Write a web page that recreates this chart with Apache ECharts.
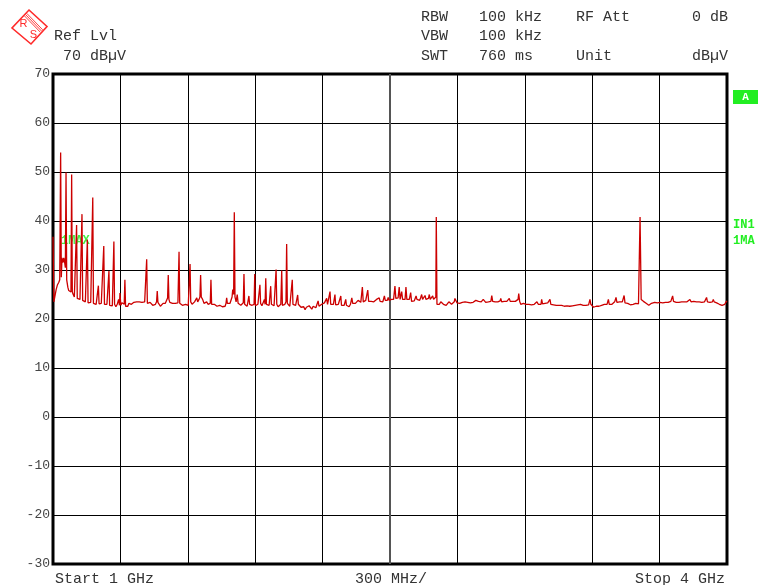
<!DOCTYPE html>
<html>
<head>
<meta charset="utf-8">
<script src="https://cdn.jsdelivr.net/npm/echarts@6/dist/echarts.min.js"></script>
<style>
html,body{margin:0;padding:0;background:#fff;}
#c{width:760px;height:585px;}
</style>
</head>
<body>
<div id="c"></div>
<script>
// ---- sweep settings ----
const startMHz = 1000;
const stopMHz = 4000;
const divMHz = 300;
const yMin = -30;
const yMax = 70;
const yStep = 10;

// ---- header / annotation texts ----
const headerLeft = ['Ref Lvl', '70 dBµV'];
const headerCol1 = ['RBW', 'VBW', 'SWT'];
const headerCol2 = ['100 kHz', '100 kHz', '760 ms'];
const headerCol3 = ['RF Att', '', 'Unit'];
const headerCol4 = ['0 dB', '', 'dBµV'];
const footerTexts = ['Start 1 GHz', '300 MHz/', 'Stop 4 GHz'];
const sideTexts = ['A', 'IN1', '1MA'];
const traceLabel = '1MAX';
const logoLetters = ['R', 'S'];

// ---- trace (frequency in MHz, level in dBµV) ----
const freqMHz = [
1000,1002,1004,1008,1014,1020,1026,1030,1034,1037,
1040,1044,1048,1052,1055,1058,1061,1066,1070,1074,
1080,1083,1086,1090,1095,1101,1105,1108,1114,1120,
1126,1129,1132,1138,1144,1150,1153,1156,1162,1168,
1174,1177,1180,1186,1192,1196,1199,1202,1205,1210,
1215,1220,1223,1226,1229,1234,1240,1246,1249,1252,
1258,1264,1268,1271,1274,1280,1286,1292,1296,1298,
1302,1307,1312,1317,1320,1323,1328,1333,1338,1343,
1349,1354,1360,1366,1372,1378,1384,1390,1396,1402,
1408,1414,1417,1420,1426,1432,1438,1444,1450,1456,
1461,1464,1467,1472,1478,1484,1490,1496,1500,1506,
1510,1513,1516,1520,1526,1532,1538,1544,1550,1556,
1561,1564,1570,1576,1580,1584,1590,1596,1602,1607,
1610,1613,1619,1625,1630,1636,1640,1644,1650,1654,
1657,1660,1666,1672,1678,1684,1690,1696,1700,1703,
1706,1712,1718,1724,1730,1736,1742,1748,1754,1760,
1766,1770,1773,1776,1782,1788,1794,1797,1800,1804,
1807,1810,1815,1820,1824,1830,1836,1842,1847,1850,
1853,1858,1864,1869,1872,1875,1880,1886,1892,1895,
1898,1901,1906,1912,1918,1921,1924,1930,1936,1941,
1944,1947,1950,1956,1962,1966,1969,1972,1978,1984,
1990,1993,1996,2002,2008,2014,2018,2021,2026,2032,
2037,2040,2043,2048,2054,2060,2065,2068,2074,2080,
2086,2089,2092,2098,2104,2110,2116,2122,2128,2134,
2140,2146,2152,2158,2164,2170,2176,2180,2184,2190,
2196,2202,2208,2214,2218,2222,2228,2233,2236,2242,
2248,2255,2258,2264,2270,2276,2281,2284,2290,2296,
2303,2306,2312,2318,2324,2330,2334,2340,2346,2352,
2358,2364,2370,2377,2381,2386,2392,2397,2401,2405,
2410,2416,2422,2428,2434,2440,2446,2452,2456,2462,
2468,2475,2479,2484,2488,2492,2496,2500,2506,2510,
2516,2522,2526,2530,2536,2541,2545,2548,2552,2556,
2562,2567,2571,2575,2580,2586,2592,2596,2602,2608,
2612,2616,2620,2626,2632,2636,2641,2645,2651,2656,
2660,2666,2671,2675,2679,2684,2690,2694,2699,2704,
2706,2709,2714,2720,2726,2732,2738,2744,2750,2756,
2762,2768,2774,2780,2786,2789,2793,2798,2804,2810,
2816,2822,2828,2834,2840,2846,2852,2858,2864,2870,
2876,2882,2888,2894,2900,2906,2912,2915,2920,2926,
2932,2938,2944,2949,2953,2957,2962,2968,2974,2980,
2986,2990,2993,2997,3002,3008,3014,3020,3026,3031,
3035,3040,3046,3052,3058,3064,3070,3073,3077,3082,
3088,3094,3100,3106,3112,3118,3124,3130,3136,3142,
3148,3154,3160,3166,3172,3175,3179,3184,3190,3196,
3202,3208,3212,3216,3222,3228,3234,3240,3246,3252,
3258,3264,3270,3276,3282,3288,3294,3300,3306,3312,
3318,3324,3330,3336,3342,3348,3354,3360,3366,3372,
3378,3384,3390,3394,3400,3406,3412,3418,3424,3430,
3436,3442,3448,3454,3460,3466,3472,3476,3482,3488,
3494,3500,3506,3510,3516,3522,3528,3534,3538,3542,
3546,3552,3558,3564,3570,3576,3582,3588,3594,3600,
3606,3610,3612,3613,3616,3618,3622,3628,3634,3640,
3646,3652,3658,3664,3668,3672,3678,3684,3690,3696,
3702,3708,3714,3720,3726,3732,3738,3744,3750,3755,
3758,3762,3768,3774,3780,3786,3792,3798,3804,3810,
3816,3822,3828,3835,3840,3846,3852,3858,3864,3870,
3876,3882,3888,3894,3900,3905,3909,3913,3918,3924,
3930,3935,3939,3943,3948,3954,3960,3966,3972,3978,
3984,3990,3996,4000
];
const levelDbuV = [
36.8,36.5,23.5,24.5,26.0,27.0,27.5,28.0,54.0,28.5,
32.5,31.5,32.5,31.5,30.5,49.9,28.0,26.5,25.8,26.0,
25.5,49.5,25.5,25.0,24.5,24.3,39.2,24.2,24.2,24.0,
23.8,41.4,23.8,23.6,23.5,23.4,36.2,23.3,23.2,23.4,
23.3,44.8,23.2,23.0,23.0,23.2,22.9,26.8,23.1,23.0,
23.2,23.0,23.3,34.9,23.0,22.8,23.0,22.9,29.8,22.8,
23.0,22.7,22.9,35.8,23.0,22.5,23.0,24.0,22.8,25.3,
22.8,23.3,23.4,23.0,28.0,22.6,22.7,22.6,23.2,22.9,
23.0,23.2,23.4,23.0,23.5,23.3,23.5,23.2,23.4,23.2,
23.5,23.3,32.2,23.2,23.0,23.4,23.0,22.8,23.2,23.0,
23.5,25.7,23.4,23.0,22.6,22.8,23.2,23.0,23.2,23.5,
24.3,29.0,24.0,23.4,23.3,23.2,23.5,23.2,23.4,23.3,
33.7,23.2,23.5,22.8,22.6,22.6,23.0,23.2,22.8,23.0,
31.2,23.5,23.0,23.3,23.5,23.4,24.3,23.5,24.0,24.5,
29.0,24.5,24.0,23.2,23.0,23.5,23.0,22.7,23.2,28.0,
23.0,22.6,23.0,22.8,22.6,23.0,22.8,23.0,22.5,22.7,
22.6,23.2,24.3,23.2,22.8,23.2,23.5,24.5,26.0,25.0,
41.8,24.5,23.5,25.0,23.2,23.0,22.8,22.6,23.3,29.2,
23.0,23.2,22.6,23.0,24.7,23.0,22.6,22.8,23.2,23.0,
29.2,22.7,22.5,23.0,23.3,27.0,23.2,22.7,22.8,24.0,
23.0,28.3,23.0,22.6,22.8,23.0,26.7,23.0,22.6,22.7,
23.0,30.1,23.0,22.5,22.8,23.0,29.9,22.8,22.5,23.0,
23.5,35.3,23.2,22.8,22.6,23.0,28.0,23.0,22.6,22.8,
23.0,24.9,23.0,22.6,22.4,22.0,22.5,21.9,22.4,22.2,
22.7,22.3,22.0,22.6,22.8,22.3,22.6,23.7,22.6,22.4,
23.0,22.8,23.3,23.0,24.2,23.0,22.8,25.6,23.0,22.8,
23.0,25.0,22.9,22.7,23.0,23.3,24.7,22.8,22.5,22.8,
24.0,22.8,22.6,22.5,23.0,24.3,23.2,23.5,23.2,23.5,
23.8,23.5,23.4,26.5,23.5,23.6,23.8,23.5,25.9,23.6,
23.4,23.6,23.8,23.5,23.6,24.0,23.8,24.3,23.6,23.8,
23.5,24.7,23.8,23.4,23.8,24.4,23.8,23.5,24.0,24.2,
24.0,26.7,24.2,24.0,24.3,26.5,24.0,24.2,25.6,24.0,
23.8,24.0,26.5,24.0,23.8,24.0,25.4,23.6,23.8,23.7,
24.2,24.7,24.0,24.1,23.8,24.3,25.0,24.0,24.2,24.8,
24.0,24.1,24.2,25.0,24.0,24.3,24.7,24.0,24.2,24.5,
40.8,23.0,23.2,23.0,23.5,23.2,23.0,23.2,22.8,23.0,
23.5,23.2,23.0,23.3,23.5,24.2,23.8,23.3,23.0,23.2,
23.0,23.4,23.2,23.5,23.6,23.4,23.6,23.3,23.5,23.4,
23.6,23.8,23.5,23.6,23.4,23.5,23.8,24.0,23.6,23.4,
23.6,23.5,23.8,23.6,24.8,23.6,23.4,23.5,23.3,23.5,
23.4,23.7,24.2,23.5,23.4,23.6,23.5,23.6,23.8,24.2,
23.6,23.8,23.6,23.5,23.6,23.8,24.0,25.2,23.6,23.0,
23.3,23.2,23.3,23.0,23.2,23.0,23.2,22.9,23.1,23.0,
23.2,23.5,23.0,23.2,23.0,24.0,23.1,22.9,23.2,23.0,
23.3,23.0,24.0,23.0,22.8,22.9,22.7,22.8,22.7,22.8,
22.6,22.8,22.7,22.6,22.8,22.7,22.8,22.6,22.8,22.7,
22.9,22.8,22.7,22.9,22.8,23.0,22.7,22.8,23.0,22.8,
23.0,22.9,24.0,23.0,22.6,22.4,22.3,22.6,22.8,22.6,
23.0,22.8,23.2,23.0,23.2,23.0,24.0,23.0,23.2,23.0,
23.3,23.5,24.4,23.4,23.2,23.5,23.3,23.5,23.6,24.8,
23.3,23.0,23.2,23.1,22.9,22.9,23.0,23.0,23.2,23.0,
23.1,23.0,23.5,40.8,40.5,24.0,23.8,23.6,23.4,23.2,
23.0,22.8,22.9,23.2,22.9,23.0,23.4,23.5,23.3,23.5,
23.4,23.6,23.3,23.5,23.4,23.6,23.4,23.5,23.6,23.8,
24.7,23.6,23.5,23.4,23.2,23.4,23.3,23.5,23.4,23.5,
23.3,23.5,23.6,24.0,23.5,23.4,23.6,23.3,23.5,23.3,
23.5,23.6,23.4,23.6,23.5,23.8,24.4,23.5,23.6,23.4,
23.6,23.5,24.0,23.5,23.4,23.3,23.2,23.0,22.9,22.8,
22.7,23.0,23.5,23.7
];

const MONO = '"Liberation Mono","DejaVu Sans Mono",monospace';
const TXT = '#333';
const GREEN = '#22ee22';
const LOGO_RED = '#ff2a2a';

const traceData = freqMHz.map((f, i) => [f - startMHz, levelDbuV[i]]);

function txt(text, x, y, opt) {
  opt = opt || {};
  return {
    type: 'text', z: opt.z || 10, silent: true,
    style: {
      text: text, x: x, y: y,
      fontFamily: opt.family || MONO,
      fontSize: opt.size || 14,
      fontWeight: opt.weight || 'normal',
      fill: opt.fill || TXT,
      align: opt.align || 'left',
      verticalAlign: 'middle'
    }
  };
}

const graphics = [];
// R&S logo
graphics.push({
  type: 'polygon', silent: true, z: 10,
  shape: { points: [[29, 10], [47, 26.5], [31, 44], [12, 28]] },
  style: { fill: '#fff', stroke: LOGO_RED, lineWidth: 1.6 }
});
[-1.2, 0, 1.2].forEach(o => {
  graphics.push({
    type: 'line', silent: true, z: 11,
    shape: { x1: 25.5 + o, y1: 14.5 - o, x2: 41.5 + o, y2: 31 - o },
    style: { stroke: LOGO_RED, lineWidth: 0.9 }
  });
});
graphics.push(txt(logoLetters[0], 23.5, 24, { size: 11, fill: LOGO_RED, family: '"Liberation Sans",sans-serif', align: 'center', z: 12 }));
graphics.push(txt(logoLetters[1], 33.5, 35, { size: 11, fill: LOGO_RED, family: '"Liberation Sans",sans-serif', align: 'center', z: 12 }));

// header
graphics.push(txt(headerLeft[0], 54, 36, { size: 15 }));
graphics.push(txt(headerLeft[1], 63, 56, { size: 15 }));
const rowY = [17, 36, 56];
for (let i = 0; i < 3; i++) {
  graphics.push(txt(headerCol1[i], 421, rowY[i], { size: 15 }));
  graphics.push(txt(headerCol2[i], 479, rowY[i], { size: 15 }));
  if (headerCol3[i]) graphics.push(txt(headerCol3[i], 576, rowY[i], { size: 15 }));
  if (headerCol4[i]) graphics.push(txt(headerCol4[i], 728, rowY[i], { size: 15, align: 'right' }));
}
// footer
graphics.push(txt(footerTexts[0], 55, 579, { size: 15 }));
graphics.push(txt(footerTexts[1], 355, 579, { size: 15 }));
graphics.push(txt(footerTexts[2], 725, 579, { size: 15, align: 'right' }));

// side annotations
graphics.push({
  type: 'rect', silent: true, z: 10,
  shape: { x: 733, y: 90, width: 25, height: 14 },
  style: { fill: GREEN }
});
graphics.push(txt(sideTexts[0], 745.5, 97, { size: 11, weight: 'bold', fill: '#fff', align: 'center' }));
graphics.push(txt(sideTexts[1], 733, 225, { size: 12, weight: 'bold', fill: GREEN }));
graphics.push(txt(sideTexts[2], 733, 241, { size: 12, weight: 'bold', fill: GREEN }));
graphics.push(txt(traceLabel, 61, 241, { size: 12, weight: 'bold', fill: '#44ee44', z: 1 }));

const chart = echarts.init(document.getElementById('c'), null, { renderer: 'canvas' });
chart.setOption({
  animation: false,
  backgroundColor: '#fff',
  grid: {
    left: 53, right: 33, top: 74, bottom: 21,
    show: true, borderColor: '#000', borderWidth: 3, backgroundColor: 'transparent'
  },
  xAxis: {
    type: 'value', min: 0, max: stopMHz - startMHz, interval: divMHz,
    axisLabel: { show: false }, axisTick: { show: false }, axisLine: { show: false },
    splitLine: { show: true, lineStyle: { color: '#000', width: 1 } }
  },
  yAxis: {
    type: 'value', min: yMin, max: yMax, interval: yStep,
    axisLine: { show: false }, axisTick: { show: false },
    axisLabel: { show: true, color: '#444', fontFamily: MONO, fontSize: 13, margin: 3 },
    splitLine: { show: true, lineStyle: { color: '#000', width: 1 } }
  },
  series: [{
    type: 'line',
    data: traceData,
    showSymbol: false,
    symbol: 'none',
    z: 5,
    lineStyle: { color: '#cc0000', width: 1.3 },
    markLine: {
      silent: true, symbol: ['none', 'none'], label: { show: false },
      lineStyle: { color: '#555', width: 2, type: 'solid' },
      data: [{ xAxis: (stopMHz - startMHz) / 2 }],
      z: 1
    }
  }],
  graphic: graphics
});
</script>
</body>
</html>
